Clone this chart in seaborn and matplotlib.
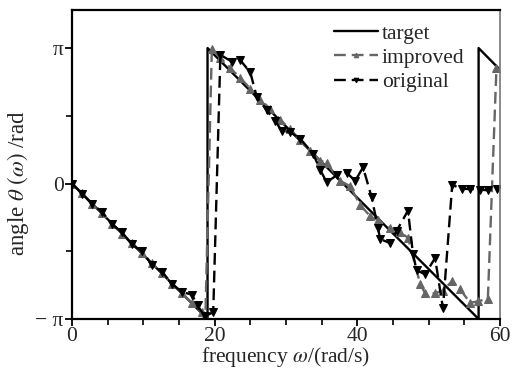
import numpy as np
import pandas as pd
import matplotlib
matplotlib.use("Agg")
import matplotlib.pyplot as plt
import seaborn as sns
from matplotlib.ticker import MultipleLocator, FixedLocator

# ---- data (angles in units of pi) ----
target_w = [0, 19, 19, 57, 57, 60]
target_y = [0, -1, 1, -1, 1, 0.84]

improved_w = [0, 1.4, 2.8, 4.2, 5.6, 7.0, 8.4, 9.8, 11.2, 12.6, 14.0, 15.4, 16.8, 18.2, 18.7, 19.6,
              20.8, 22.2, 23.6, 25.0, 26.4, 27.8, 29.2, 30.6, 32.0, 33.4, 34.8, 35.7, 37.6, 39.0,
              40.4, 41.8, 42.9, 44.6, 46.0, 47.1, 48.8, 49.5, 50.9, 52.0, 53.3, 54.4, 55.8, 56.9,
              58.3, 59.5]
improved_y = [0, -0.07, -0.15, -0.22, -0.30, -0.37, -0.44, -0.51, -0.59, -0.66, -0.74, -0.81, -0.88,
              -0.95, -0.98, 0.99, 0.93, 0.85, 0.78, 0.70, 0.62, 0.55, 0.47, 0.40, 0.32, 0.24, 0.17,
              0.15, 0.02, -0.02, -0.16, -0.24, -0.27, -0.33, -0.36, -0.40, -0.74, -0.81, -0.81,
              -0.79, -0.72, -0.78, -0.88, -0.87, -0.85, 0.85]

original_w = [0, 1.4, 2.8, 4.2, 5.6, 7.0, 8.4, 9.8, 11.2, 12.6, 14.0, 15.4, 16.8, 17.6, 18.6, 19.8,
              20.8, 22.4, 23.6, 25.0, 25.9, 27.3, 28.5, 29.4, 30.6, 32.0, 33.8, 34.8, 35.7, 37.1,
              38.5, 39.7, 40.8, 42.0, 42.9, 43.2, 44.6, 45.5, 47.1, 47.8, 48.3, 49.5, 50.9, 52.0,
              53.3, 54.7, 55.8, 57.2, 58.3, 59.6]
original_y = [0, -0.075, -0.15, -0.21, -0.30, -0.36, -0.45, -0.50, -0.60, -0.65, -0.74, -0.80, -0.82,
              -0.90, -0.98, -0.95, 0.95, 0.90, 0.91, 0.82, 0.64, 0.54, 0.46, 0.39, 0.38, 0.33, 0.22,
              0.10, 0.01, 0.06, 0.08, 0.02, 0.12, -0.10, -0.33, -0.41, -0.44, -0.35, -0.20, -0.52,
              -0.64, -0.67, -0.55, -0.92, -0.01, -0.04, -0.04, -0.045, -0.05, -0.04]

x_major = [0, 20, 40, 60]
y_ticks = [-1, 0, 1]
y_ticklabels = ["\u2212 \u03c0", "0", "\u03c0"]

# ---- style ----
sns.set_style("ticks")
plt.rcParams["font.family"] = ["Liberation Serif", "DejaVu Serif"]
plt.rcParams["mathtext.fontset"] = "stix"

FS = 15

fig = plt.figure(figsize=(5.2, 3.71), dpi=100)
ax = fig.add_axes([72 / 520, 1 - 319 / 371, (500 - 72) / 520, (319 - 10) / 371])

df_t = pd.DataFrame({"w": target_w, "y": target_y})
df_i = pd.DataFrame({"w": improved_w, "y": improved_y})
df_o = pd.DataFrame({"w": original_w, "y": original_y})

sns.lineplot(data=df_t, x="w", y="y", ax=ax, sort=False, estimator=None,
             color="black", lw=1.7, label="target")
sns.lineplot(data=df_i, x="w", y="y", ax=ax, sort=False, estimator=None,
             color="#666666", lw=1.7, marker="^", markersize=5.5, markeredgecolor="#666666",
             label="improved")
ax.lines[-1].set_dashes([5, 2.5])
sns.lineplot(data=df_o, x="w", y="y", ax=ax, sort=False, estimator=None,
             color="black", lw=1.7, marker="v", markersize=5.5, markeredgecolor="black",
             label="original")
ax.lines[-1].set_dashes([5, 2.5])

ax.set_xlim(0, 60)
ax.set_ylim(-1, 1.281)
ax.xaxis.set_major_locator(FixedLocator(x_major))
ax.xaxis.set_minor_locator(MultipleLocator(5))
ax.yaxis.set_major_locator(FixedLocator(y_ticks))
ax.yaxis.set_minor_locator(FixedLocator([-0.5, 0.5]))
ax.set_yticklabels(y_ticklabels)
ax.tick_params(which="major", direction="out", length=5, width=1.3, labelsize=FS + 0.5, color="black", pad=1)
ax.tick_params(which="minor", direction="out", length=4, width=1.2, color="black")

for s in ["left", "bottom", "top"]:
    ax.spines[s].set_linewidth(1.6)
    ax.spines[s].set_color("black")
ax.spines["right"].set_linewidth(1.2)
ax.spines["right"].set_color("#777777")

ax.set_xlabel(r"frequency $\omega$/(rad/s)", fontsize=FS + 0.5, labelpad=-1)
ax.set_ylabel(r"angle $\theta$ $(\omega)$ /rad", fontsize=16.5)
ax.yaxis.set_label_coords(-0.095, 0.44)

leg = ax.legend(loc="upper left", bbox_to_anchor=(0.578, 1.005), frameon=False, fontsize=FS + 0.5,
                handlelength=2.0, handletextpad=0.2, labelspacing=0.2, borderaxespad=0.3,
                markerscale=0.6)

fig.savefig("out.png", dpi=100)
